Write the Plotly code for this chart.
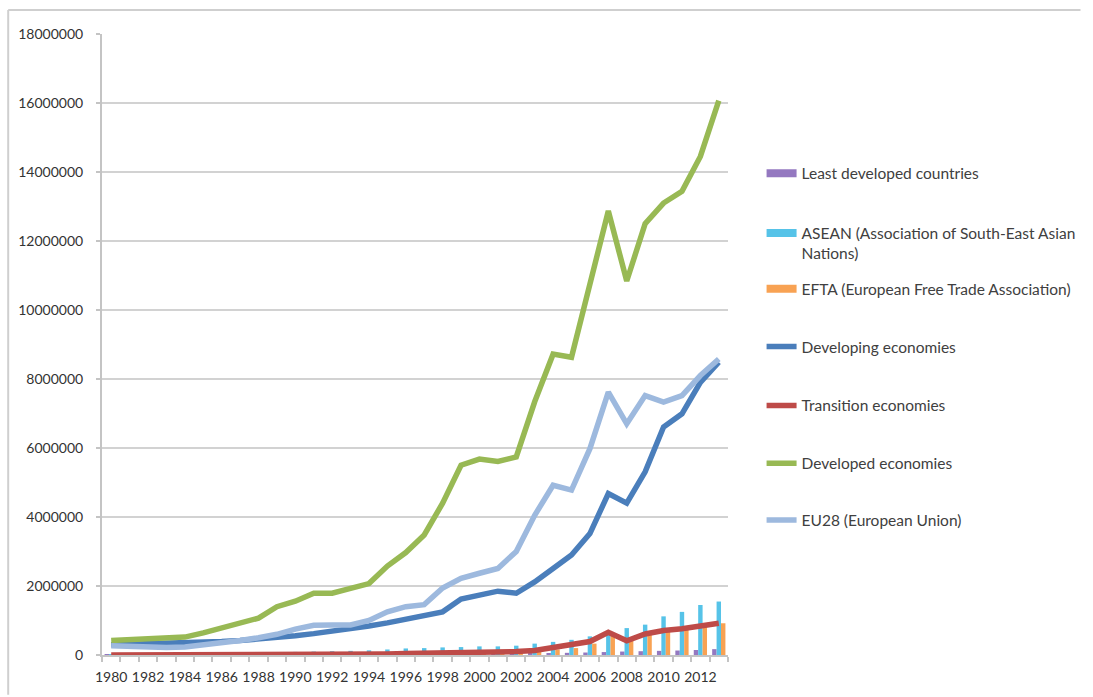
import plotly.graph_objects as go

# ---- data -------------------------------------------------------------
years = list(range(1980, 2014))

least_developed = [10000, 10000, 10000, 12000, 12000, 14000, 15000, 17000, 19000, 21000,
                   23000, 25000, 27000, 29000, 31000, 33000, 35000, 37000, 39000, 40000,
                   42000, 44000, 46000, 50000, 56000, 63000, 72000, 85000, 100000, 110000,
                   120000, 130000, 145000, 170000]
asean = [20000, 25000, 30000, 35000, 40000, 40000, 45000, 50000, 60000, 75000,
         90000, 100000, 110000, 120000, 135000, 160000, 190000, 200000, 220000, 230000,
         250000, 250000, 270000, 330000, 380000, 440000, 540000, 600000, 780000, 880000,
         1120000, 1250000, 1450000, 1550000]
efta = [10000, 10000, 10000, 12000, 12000, 15000, 20000, 25000, 30000, 35000,
        40000, 45000, 50000, 50000, 55000, 65000, 70000, 75000, 80000, 90000,
        100000, 100000, 100000, 120000, 160000, 200000, 330000, 580000, 450000, 580000,
        680000, 730000, 820000, 920000]
developing = [300000, 310000, 310000, 320000, 340000, 370000, 390000, 420000, 460000, 500000,
              560000, 620000, 680000, 760000, 840000, 930000, 1030000, 1150000, 1250000, 1620000,
              1740000, 1850000, 1790000, 2120000, 2510000, 2900000, 3520000, 4680000, 4400000, 5310000,
              6610000, 6990000, 7900000, 8490000]
transition = [0, 0, 0, 0, 0, 0, 0, 0, 0, 0,
              0, 0, 5000, 10000, 20000, 30000, 40000, 50000, 50000, 50000,
              60000, 80000, 100000, 130000, 220000, 280000, 390000, 660000, 410000, 610000,
              710000, 760000, 830000, 920000]
developed = [420000, 440000, 450000, 490000, 520000, 640000, 790000, 930000, 1070000, 1400000,
             1560000, 1790000, 1790000, 1930000, 2070000, 2580000, 2970000, 3480000, 4400000, 5500000,
             5680000, 5610000, 5740000, 7340000, 8720000, 8630000, 10700000, 12870000, 10840000, 12500000,
             13100000, 13440000, 14450000, 16070000]
eu28 = [270000, 250000, 230000, 220000, 230000, 280000, 340000, 420000, 500000, 600000,
        750000, 860000, 870000, 870000, 1000000, 1250000, 1400000, 1460000, 1940000, 2220000,
        2370000, 2510000, 3000000, 4050000, 4920000, 4780000, 5980000, 7620000, 6700000, 7520000,
        7330000, 7520000, 8100000, 8580000]

y_ticks = [0, 2000000, 4000000, 6000000, 8000000, 10000000, 12000000, 14000000, 16000000, 18000000]
x_ticks = list(range(1980, 2013, 2))

bar_series = [
    ("Least developed countries", least_developed, "#9478C0"),
    ("ASEAN (Association of South-East Asian<br>Nations)", asean, "#56C3E8"),
    ("EFTA (European Free Trade Association)", efta, "#F8A253"),
]
line_series = [
    ("Developing economies", developing, "#4A7EBB"),
    ("Transition economies", transition, "#BE4B48"),
    ("Developed economies", developed, "#98B954"),
    ("EU28 (European Union)", eu28, "#9DB9DE"),
]

# ---- page geometry (pixels) -------------------------------------------
W, H = 1093, 697
ML, MR, MT, MB = 102, 357, 34, 40
PW, PH = W - ML - MR, H - MT - MB


def px_x(px):
    return (px - ML) / PW


def px_y(py):
    return (H - MB - py) / PH


FONT = "Lato, 'Liberation Sans', Arial, sans-serif"
TEXT = "#404040"

fig = go.Figure()

legend_rows = [174, 232, 290, 348, 407, 465, 522]
legend_names = ["legend", "legend2", "legend3", "legend4", "legend5", "legend6", "legend7"]

k = 0
for name, vals, color in bar_series:
    fig.add_trace(go.Bar(x=years, y=vals, name=name, marker=dict(color=color, line=dict(width=0)),
                         showlegend=False))
    # wide key for the legend entry
    fig.add_trace(go.Scatter(x=[None], y=[None], mode="lines", name=name,
                             line=dict(color=color, width=8), legend=legend_names[k]))
    k += 1

for name, vals, color in line_series:
    fig.add_trace(go.Scatter(x=years, y=vals, name=name, mode="lines",
                             line=dict(color=color, width=5.5), legend=legend_names[k]))
    k += 1

legend_layouts = {}
for i, (lname, row) in enumerate(zip(legend_names, legend_rows)):
    two_line = i == 1
    legend_layouts[lname] = dict(
        x=px_x(770), xanchor="left",
        y=px_y(row - 15) if two_line else px_y(row),
        yanchor="top" if two_line else "middle",
        valign="top",
        font=dict(family=FONT, size=15.5, color=TEXT),
        bgcolor="rgba(0,0,0,0)", borderwidth=0,
        itemclick=False, itemdoubleclick=False,
    )

frame = "#CFCFCF"
fig.update_layout(
    width=W, height=H,
    margin=dict(l=ML, r=MR, t=MT, b=MB, pad=0),
    paper_bgcolor="white", plot_bgcolor="white",
    barmode="group", bargap=0.28, bargroupgap=0,
    showlegend=True,
    font=dict(family=FONT, size=14, color=TEXT),
    xaxis=dict(
        range=[1979.5, 2013.5], tickmode="array", tickvals=x_ticks,
        ticktext=[str(v) for v in x_ticks], ticks="", ticklabelstandoff=8,
        showgrid=False, zeroline=False, showline=True, linecolor="#C4C4C4", linewidth=2,
        tickfont=dict(family=FONT, size=14, color="#333333"),
        minor=dict(tick0=1979.5, dtick=1, ticks="outside", ticklen=5, tickcolor="#C4C4C4",
                   tickwidth=2, showgrid=False),
        fixedrange=True,
    ),
    yaxis=dict(
        range=[0, 18000000], tickmode="array", tickvals=y_ticks,
        ticktext=[str(v) for v in y_ticks], ticks="outside", ticklen=4, tickwidth=2,
        tickcolor="#C4C4C4", ticklabelstandoff=10,
        showgrid=True, gridcolor="#D2D2D2", gridwidth=2, zeroline=False,
        showline=True, linecolor="#C4C4C4", linewidth=2,
        tickfont=dict(family=FONT, size=14, color="#333333"),
        fixedrange=True,
    ),
    shapes=[
        dict(type="line", xref="paper", yref="paper", x0=px_x(7), x1=px_x(W), y0=px_y(10), y1=px_y(10),
             line=dict(color=frame, width=2)),
        dict(type="line", xref="paper", yref="paper", x0=px_x(7), x1=px_x(7), y0=px_y(10), y1=px_y(H),
             line=dict(color=frame, width=2)),
    ],
    **legend_layouts,
)

fig.write_html("out.html", config={"displayModeBar": False})
